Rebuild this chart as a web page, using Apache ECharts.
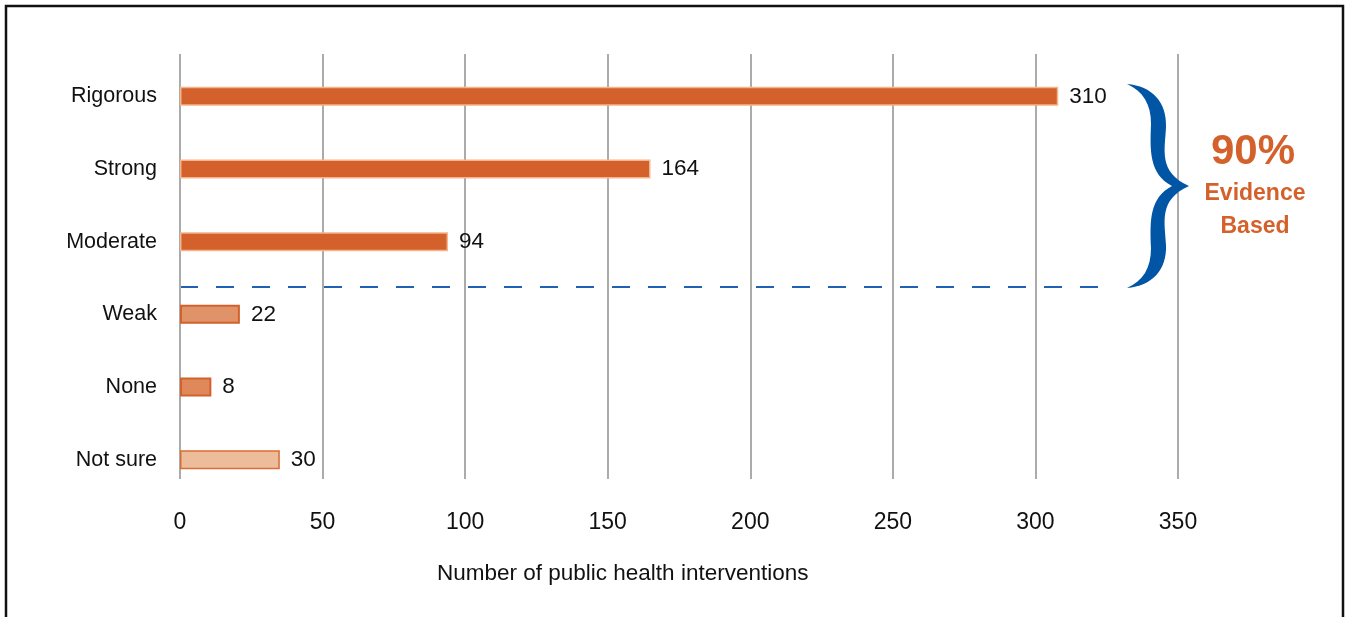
<!DOCTYPE html>
<html><head><meta charset="utf-8">
<script src="https://cdn.jsdelivr.net/npm/echarts@6/dist/echarts.min.js"></script>
<style>html,body{margin:0;padding:0;background:#fff}#c{width:1348px;height:617px}</style>
</head><body><div id="c"></div>
<script>
// ---- data ----
const categories = ['Rigorous', 'Strong', 'Moderate', 'Weak', 'None', 'Not sure'];
const barValues = [308, 165, 94, 21, 11, 35];          // bar lengths as drawn
const valueLabels = ['310', '164', '94', '22', '8', '30']; // printed labels
const axisMin = 0, axisMax = 350, axisStep = 50;
const axisTitle = 'Number of public health interventions';
const noteBig = '90%';
const noteLines = ['Evidence', 'Based'];

// ---- styles ----
const FONT = '"Liberation Sans", Arial, sans-serif';
const ORANGE = '#D4612B';
const BLUE = '#0055A5';
const barStyles = [
  { color: '#D4612B', borderColor: '#F4B48C', borderWidth: 1.5 },
  { color: '#D4612B', borderColor: '#F4B48C', borderWidth: 1.5 },
  { color: '#D4612B', borderColor: '#F4B48C', borderWidth: 1.5 },
  { color: '#E09268', borderColor: '#D4612B', borderWidth: 2 },
  { color: '#DF8859', borderColor: '#D4612B', borderWidth: 2 },
  { color: '#EDBC9B', borderColor: '#DA6C36', borderWidth: 1.5 }
];

const chart = echarts.init(document.getElementById('c'), null, { renderer: 'canvas' });

const bracePath =
  'M1127 84 C1152 86 1167 102 1166 127 C1165 150 1158 172 1189 186 ' +
  'C1158 200 1165 222 1166 245 C1167 270 1152 286 1127 288 ' +
  'C1143 281 1151 268 1151 248 C1150 222 1149 198 1172 186 ' +
  'C1149 174 1150 150 1151 124 C1151 104 1143 91 1127 84 Z';

chart.setOption({
  backgroundColor: '#fff',
  animation: false,
  textStyle: { fontFamily: FONT },
  title: {
    text: axisTitle, left: 437, top: 562, padding: 0,
    textStyle: { fontSize: 22.5, fontWeight: 'normal', color: '#111', fontFamily: FONT }
  },
  grid: [
    { left: 180, right: 170, top: 54, height: 425 },
    { left: 180, right: 170, top: 60, height: 436 }
  ],
  xAxis: [
    {
      gridIndex: 0, type: 'value', min: axisMin, max: axisMax, interval: axisStep,
      axisLine: { show: false }, axisTick: { show: false },
      splitLine: { show: true, lineStyle: { color: '#ABABAB', width: 2 } },
      axisLabel: { fontSize: 23, color: '#111', margin: 32, fontFamily: FONT }
    },
    { gridIndex: 1, type: 'value', min: axisMin, max: axisMax, show: false }
  ],
  yAxis: [
    { gridIndex: 0, type: 'category', data: categories, show: false },
    {
      gridIndex: 1, type: 'category', data: categories, inverse: true,
      axisLine: { show: false }, axisTick: { show: false }, splitLine: { show: false },
      axisLabel: { fontSize: 21.5, color: '#111', margin: 23, fontFamily: FONT }
    }
  ],
  series: [
    {
      type: 'bar', xAxisIndex: 1, yAxisIndex: 1, barWidth: 19,
      data: barValues.map((v, i) => ({ value: v, itemStyle: barStyles[i] })),
      label: {
        show: true, position: 'right', distance: 11,
        formatter: p => valueLabels[p.dataIndex],
        fontSize: 22.5, color: '#111', fontFamily: FONT
      }
    },
    {
      type: 'custom', xAxisIndex: 1, yAxisIndex: 1, silent: true,
      data: [[0, 0]],
      renderItem: function () {
        return {
          type: 'path',
          shape: { pathData: bracePath, x: 1127, y: 84, width: 62, height: 204 },
          style: { fill: BLUE }
        };
      }
    }
  ],
  graphic: [
    { type: 'rect', shape: { x: 6, y: 6, width: 1337, height: 700 },
      style: { fill: 'none', stroke: '#111', lineWidth: 2.5 }, silent: true },
    { type: 'line', shape: { x1: 180, y1: 287, x2: 1112, y2: 287 },
      style: { stroke: '#1F62B3', lineWidth: 2, lineDash: [18, 18] }, silent: true },
    { type: 'text', x: 1253, y: 152, style: { text: noteBig, fill: ORANGE, fontSize: 42, fontWeight: 'bold', fontFamily: FONT, align: 'center', verticalAlign: 'middle' } },
    { type: 'text', x: 1255, y: 194, style: { text: noteLines[0], fill: ORANGE, fontSize: 23, fontWeight: 'bold', fontFamily: FONT, align: 'center', verticalAlign: 'middle' } },
    { type: 'text', x: 1255, y: 227, style: { text: noteLines[1], fill: ORANGE, fontSize: 23, fontWeight: 'bold', fontFamily: FONT, align: 'center', verticalAlign: 'middle' } }
  ]
});
</script>
</body></html>
